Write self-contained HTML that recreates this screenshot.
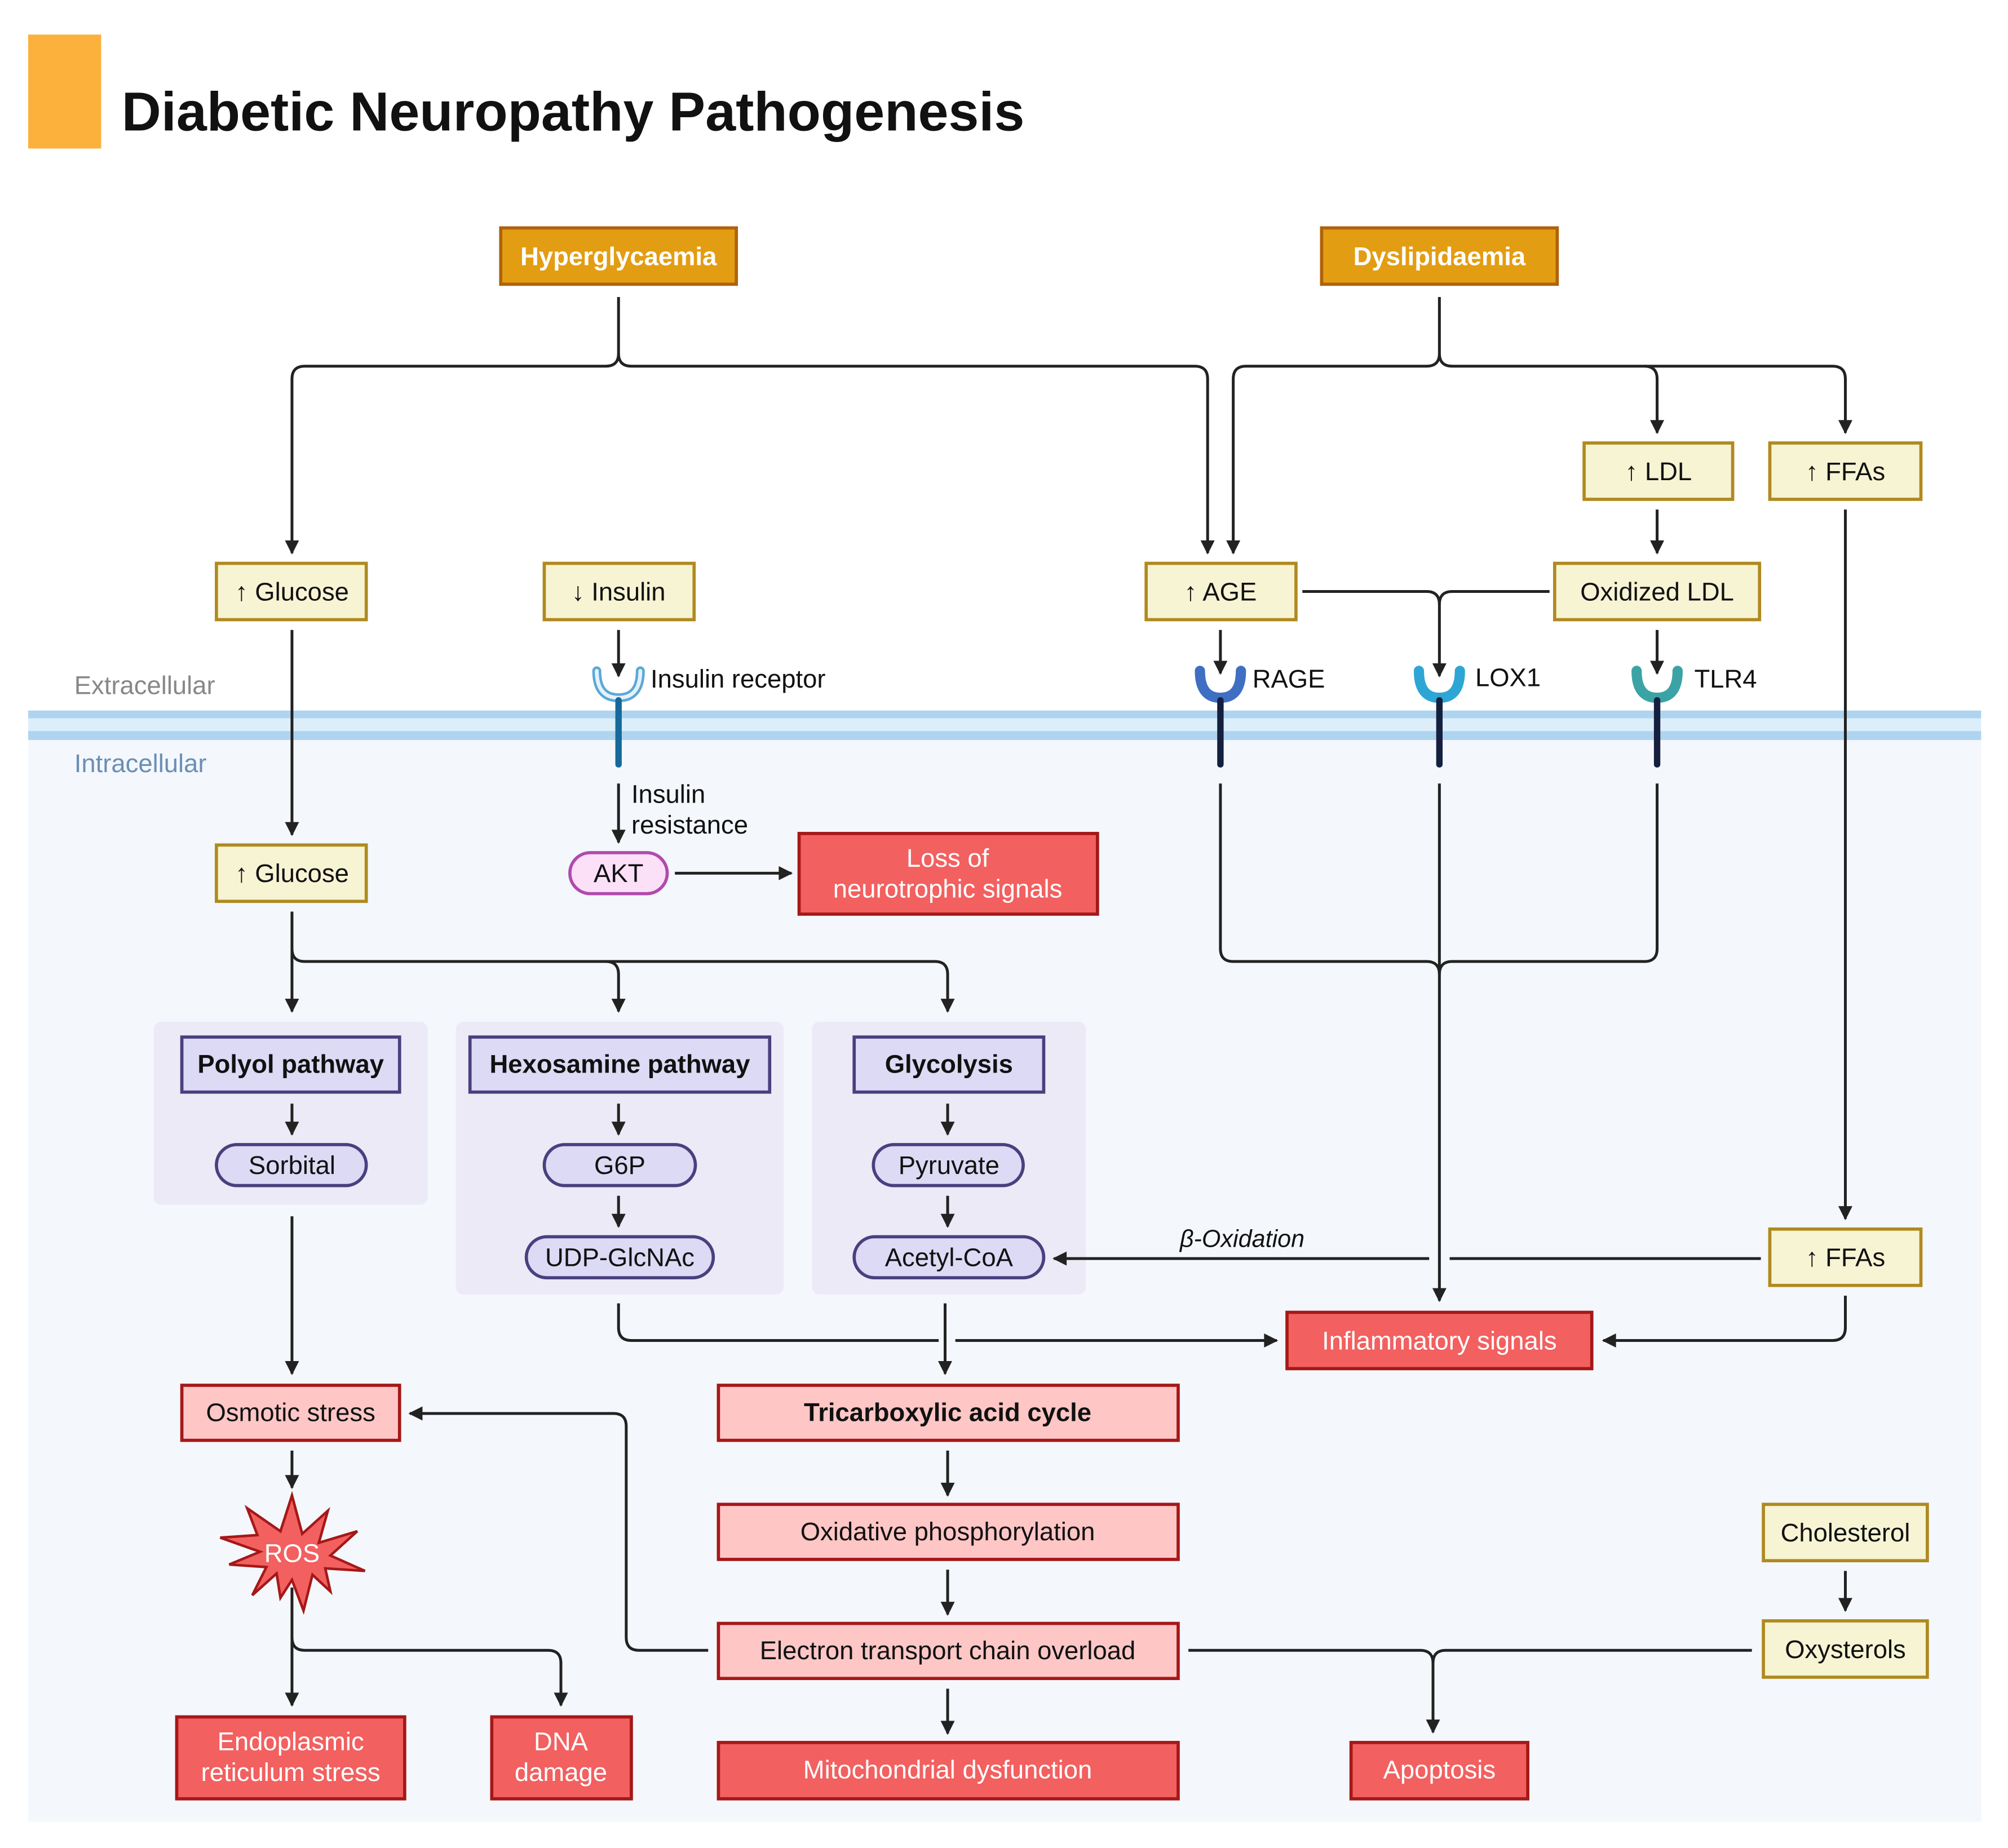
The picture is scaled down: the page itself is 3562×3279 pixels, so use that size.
<!DOCTYPE html>
<html><head><meta charset="utf-8"><style>
html,body{margin:0;padding:0;background:#fff}
svg{display:block}
text{font-family:"Liberation Sans",sans-serif}
</style></head><body>
<svg width="3562" height="3279" viewBox="0 0 1568 1443.4" xmlns="http://www.w3.org/2000/svg">
<defs>
<marker id="a" viewBox="0 0 10 10" refX="9" refY="5" markerWidth="13" markerHeight="11" orient="auto-start-reverse" markerUnits="userSpaceOnUse"><path d="M0,0 L10,5 L0,10 z" fill="#222"/></marker>
</defs>
<style>
.y{fill:#F7F4D4;stroke:#B08A1F;stroke-width:2.5}
.o{fill:#E39D12;stroke:#B0620A;stroke-width:2.5}
.r{fill:#F26060;stroke:#A51818;stroke-width:2.5}
.p{fill:#FFC6C6;stroke:#A51818;stroke-width:2.5}
.v{fill:#DCDAF4;stroke:#4A3F7F;stroke-width:2.5}
.g{fill:#ECEAF6}
.t{font-size:20px;fill:#111;text-anchor:middle}
.w{font-size:20px;fill:#fff;text-anchor:middle}
.b{font-weight:bold}
.l{fill:none;stroke:#222;stroke-width:2.2}
.m{marker-end:url(#a)}
</style>
<rect x="22" y="27" width="57" height="89" fill="#FBB13C"/>
<text x="95" y="102" font-size="43" font-weight="bold" fill="#111" textLength="705" lengthAdjust="spacingAndGlyphs">Diabetic Neuropathy Pathogenesis</text>
<rect x="22" y="578" width="1525" height="845" fill="#F4F7FC"/>
<rect x="22" y="555" width="1525" height="23" fill="#DDEEFB"/>
<rect x="22" y="555" width="1525" height="6" fill="#AED4F0"/>
<rect x="22" y="571" width="1525" height="7" fill="#AED4F0"/>
<text x="58" y="542" font-size="20" fill="#888">Extracellular</text>
<text x="58" y="603" font-size="20" fill="#6B8FB5">Intracellular</text>
<rect class="g" x="120" y="798" width="214" height="143" rx="6"/>
<rect class="g" x="356" y="798" width="256" height="213" rx="6"/>
<rect class="g" x="634" y="798" width="214" height="213" rx="6"/>
<path class="l m" d="M483,232 V276 Q483,286 473,286 H238 Q228,286 228,296 V432"/>
<path class="l m" d="M483,276 Q483,286 493,286 H933 Q943,286 943,296 V432"/>
<path class="l m" d="M1124,232 V276 Q1124,286 1114,286 H973 Q963,286 963,296 V432"/>
<path class="l m" d="M1124,276 Q1124,286 1134,286 H1284 Q1294,286 1294,296 V338"/>
<path class="l m" d="M1284,286 H1431 Q1441,286 1441,296 V338"/>
<path class="l m" d="M1294,398 V432"/>
<path class="l m" d="M1017,462 H1114 Q1124,462 1124,472 V528"/>
<path class="l" d="M1210,462 H1134 Q1124,462 1124,472"/>
<path class="l m" d="M953,492 V526"/>
<path class="l m" d="M1294,492 V526"/>
<path class="l m" d="M483,492 V528"/>
<path class="l m" d="M228,492 V652"/>
<path class="l m" d="M483,612 V658"/>
<path class="l m" d="M527,682 H618"/>
<path class="l m" d="M228,712 V741 Q228,751 238,751 H473 Q483,751 483,761 V790"/>
<path class="l m" d="M473,751 H730 Q740,751 740,761 V790"/>
<path class="l m" d="M228,741 V790"/>
<path class="l m" d="M228,862 V886"/>
<path class="l m" d="M483,862 V886"/>
<path class="l m" d="M483,934 V958"/>
<path class="l m" d="M740,862 V886"/>
<path class="l m" d="M740,934 V958"/>
<path class="l" d="M953,612 V741 Q953,751 963,751 H1114 Q1124,751 1124,761"/>
<path class="l" d="M1294,612 V741 Q1294,751 1284,751 H1134 Q1124,751 1124,761"/>
<path class="l m" d="M1124,612 V1016"/>
<path class="l m" d="M1441,398 V952"/>
<path class="l" d="M1375,983 H1132"/>
<path class="l m" d="M1116,983 H823"/>
<text x="970" y="974" font-size="19" font-style="italic" fill="#111" text-anchor="middle">β-Oxidation</text>
<path class="l m" d="M1441,1012 V1037 Q1441,1047 1431,1047 H1252"/>
<path class="l" d="M483,1018 V1037 Q483,1047 493,1047 H733"/>
<path class="l m" d="M746,1047 H997"/>
<path class="l m" d="M738,1018 V1073"/>
<path class="l m" d="M228,950 V1073"/>
<path class="l m" d="M740,1133 V1168"/>
<path class="l m" d="M740,1226 V1261"/>
<path class="l m" d="M740,1319 V1354"/>
<path class="l m" d="M553,1289 H499 Q489,1289 489,1279 V1114 Q489,1104 479,1104 H320"/>
<path class="l m" d="M228,1133 V1162"/>
<path class="l m" d="M228,1240 V1332"/>
<path class="l m" d="M228,1279 Q228,1289 238,1289 H428 Q438,1289 438,1299 V1332"/>
<path class="l m" d="M928,1289 H1109 Q1119,1289 1119,1299 V1353"/>
<path class="l" d="M1368,1289 H1129 Q1119,1289 1119,1299"/>
<path class="l m" d="M1441,1227 V1258"/>
<g fill="none" stroke-linecap="round">
<path d="M466,524 Q466,545 483,545 Q500,545 500,524" stroke="#5AA8D6" stroke-width="7"/>
<path d="M466,524 Q466,545 483,545 Q500,545 500,524" stroke="#E3F2FB" stroke-width="3"/>
<line x1="483" y1="547" x2="483" y2="597" stroke="#16699A" stroke-width="5"/>
<path d="M937,524 Q937,545 953,545 Q969,545 969,524" stroke="#3F6FC2" stroke-width="8"/>
<line x1="953" y1="547" x2="953" y2="597" stroke="#15203F" stroke-width="5"/>
<path d="M1108,524 Q1108,545 1124,545 Q1140,545 1140,524" stroke="#2EA6D4" stroke-width="8"/>
<line x1="1124" y1="547" x2="1124" y2="597" stroke="#15203F" stroke-width="5"/>
<path d="M1278,524 Q1278,545 1294,545 Q1310,545 1310,524" stroke="#3BA3A6" stroke-width="8"/>
<line x1="1294" y1="547" x2="1294" y2="597" stroke="#15203F" stroke-width="5"/>
</g>
<text x="508" y="537" font-size="20" fill="#111">Insulin receptor</text>
<text x="978" y="537" font-size="20" fill="#111">RAGE</text>
<text x="1152" y="536" font-size="20" fill="#111">LOX1</text>
<text x="1323" y="537" font-size="20" fill="#111">TLR4</text>
<text x="493" y="627" font-size="20" fill="#111">Insulin</text>
<text x="493" y="651" font-size="20" fill="#111">resistance</text>
<rect class="o" x="391" y="178" width="184" height="44"/><text class="w b" x="483" y="207">Hyperglycaemia</text>
<rect class="o" x="1032" y="178" width="184" height="44"/><text class="w b" x="1124" y="207">Dyslipidaemia</text>
<rect class="y" x="1237" y="346" width="116" height="44"/><text class="t" x="1295" y="375">↑ LDL</text>
<rect class="y" x="1382" y="346" width="118" height="44"/><text class="t" x="1441" y="375">↑ FFAs</text>
<rect class="y" x="169" y="440" width="117" height="44"/><text class="t" x="228" y="469">↑ Glucose</text>
<rect class="y" x="425" y="440" width="117" height="44"/><text class="t" x="483" y="469">↓ Insulin</text>
<rect class="y" x="895" y="440" width="117" height="44"/><text class="t" x="953" y="469">↑ AGE</text>
<rect class="y" x="1214" y="440" width="160" height="44"/><text class="t" x="1294" y="469">Oxidized LDL</text>
<rect class="y" x="169" y="660" width="117" height="44"/><text class="t" x="228" y="689">↑ Glucose</text>
<rect x="445" y="666" width="76" height="32" rx="16" fill="#FCE0F8" stroke="#B04AAE" stroke-width="2.5"/><text class="t" x="483" y="689">AKT</text>
<rect class="r" x="624" y="651" width="233" height="63"/><text class="w" x="740" y="677">Loss of</text><text class="w" x="740" y="701">neurotrophic signals</text>
<rect class="v" x="142" y="810" width="170" height="43"/><text class="t b" x="227" y="838">Polyol pathway</text>
<rect class="v" x="367" y="810" width="234" height="43"/><text class="t b" x="484" y="838">Hexosamine pathway</text>
<rect class="v" x="667" y="810" width="148" height="43"/><text class="t b" x="741" y="838">Glycolysis</text>
<rect class="v" x="169" y="894" width="117" height="32" rx="16"/><text class="t" x="228" y="917">Sorbital</text>
<rect class="v" x="425" y="894" width="118" height="32" rx="16"/><text class="t" x="484" y="917">G6P</text>
<rect class="v" x="411" y="966" width="146" height="32" rx="16"/><text class="t" x="484" y="989">UDP-GlcNAc</text>
<rect class="v" x="682" y="894" width="117" height="32" rx="16"/><text class="t" x="741" y="917">Pyruvate</text>
<rect class="v" x="667" y="966" width="148" height="32" rx="16"/><text class="t" x="741" y="989">Acetyl-CoA</text>
<rect class="y" x="1382" y="960" width="118" height="44"/><text class="t" x="1441" y="989">↑ FFAs</text>
<rect class="r" x="1005" y="1025" width="238" height="44"/><text class="w" x="1124" y="1054">Inflammatory signals</text>
<rect class="p" x="142" y="1082" width="170" height="43"/><text class="t" x="227" y="1110">Osmotic stress</text>
<rect class="p" x="561" y="1082" width="359" height="43"/><text class="t b" x="740" y="1110">Tricarboxylic acid cycle</text>
<rect class="p" x="561" y="1175" width="359" height="43"/><text class="t" x="740" y="1203">Oxidative phosphorylation</text>
<rect class="p" x="561" y="1268" width="359" height="43"/><text class="t" x="740" y="1296">Electron transport chain overload</text>
<rect class="r" x="561" y="1361" width="359" height="44"/><text class="w" x="740" y="1389">Mitochondrial dysfunction</text>
<rect class="r" x="138" y="1341" width="178" height="64"/><text class="w" x="227" y="1367">Endoplasmic</text><text class="w" x="227" y="1391">reticulum stress</text>
<rect class="r" x="384" y="1341" width="109" height="64"/><text class="w" x="438" y="1367">DNA</text><text class="w" x="438" y="1391">damage</text>
<rect class="r" x="1055" y="1361" width="138" height="44"/><text class="w" x="1124" y="1389">Apoptosis</text>
<rect class="y" x="1377" y="1175" width="128" height="44"/><text class="t" x="1441" y="1204">Cholesterol</text>
<rect class="y" x="1377" y="1266" width="128" height="44"/><text class="t" x="1441" y="1295">Oxysterols</text>
<polygon fill="#F26060" stroke="#A51818" stroke-width="2" points="228,1168 236,1198 256,1180 249,1205 279,1196 258,1215 285,1227 254,1225 258,1243 244,1230 237,1258 228,1234 219,1248 216,1229 197,1246 208,1224 179,1222 203,1212 172,1201 201,1199 193,1178 219,1196"/>
<text class="w" x="228" y="1220" font-size="18">ROS</text>
</svg>
</body></html>
